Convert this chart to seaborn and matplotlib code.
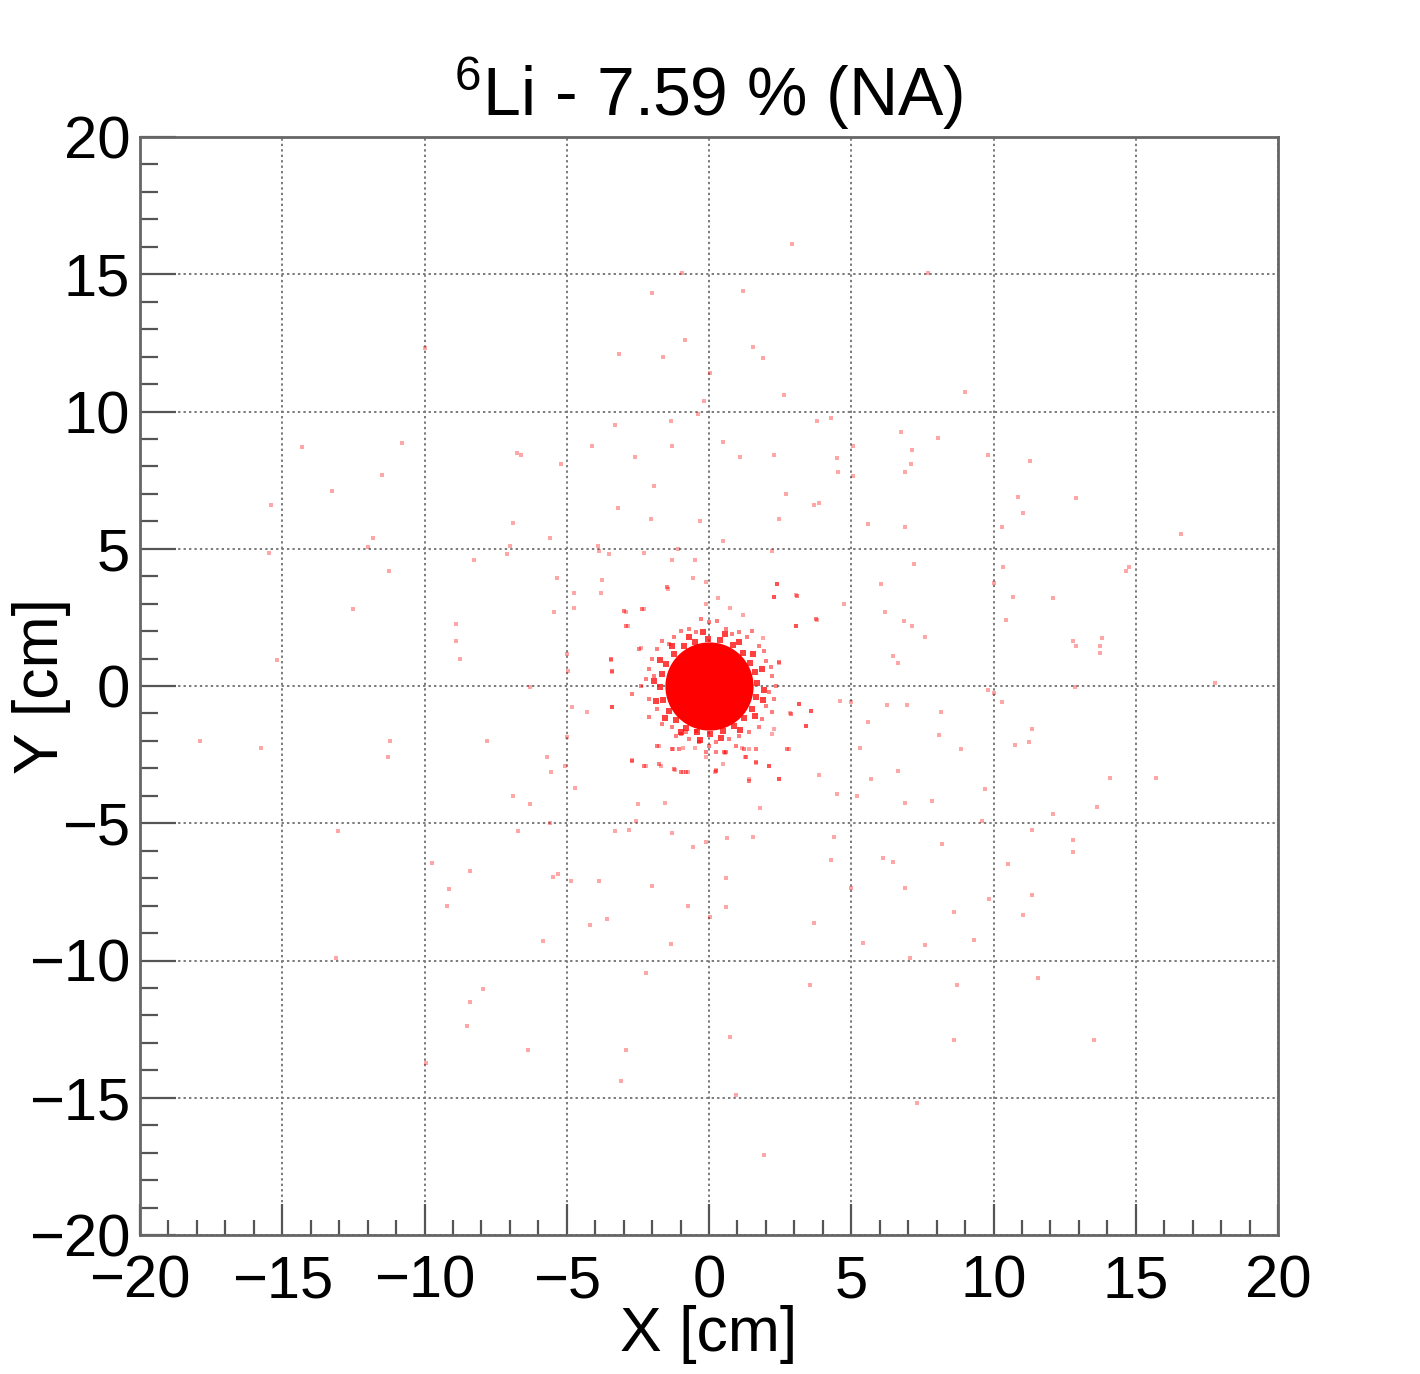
import numpy as np
import pandas as pd
import matplotlib
matplotlib.use("Agg")
import matplotlib.pyplot as plt
from matplotlib.ticker import MultipleLocator
import seaborn as sns

# ---------------- data (cm) ----------------
title = r"$^{6}$Li - 7.59 % (NA)"
x_label = "X [cm]"
y_label = "Y [cm]"
tick_values = [-20, -15, -10, -5, 0, 5, 10, 15, 20]

# centre of the dense beam spot and its saturated radius (cm)
core_x = [0.0]
core_y = [0.0]
core_radius_cm = 1.55

# dense ring just outside the saturated spot
ring_x = [1.70, 1.62, 1.45, 1.20, 0.85, 0.40, -0.05, -0.48, -0.88, -1.22, -1.50, -1.66, -1.72, -1.62,
          -1.42, -1.15, -0.80, -0.42, 0.05, 0.48, 0.88, 1.22, 1.50, 1.66,
          1.95, 1.85, 1.55, 1.05, 0.55, -0.20, -0.72, -1.30, -1.72, -1.95, -1.88, -1.55, -1.00, -0.30,
          0.42, 1.10, 1.62, 1.90]
ring_y = [0.10, 0.50, 0.85, 1.20, 1.50, 1.68, 1.72, 1.62, 1.45, 1.18, 0.80, 0.42, -0.05, -0.50,
          -0.92, -1.25, -1.52, -1.66, -1.74, -1.64, -1.46, -1.18, -0.82, -0.40,
          -0.15, 0.62, 1.15, 1.62, 1.88, 1.95, 1.80, 1.45, 0.95, 0.20, -0.55, -1.15, -1.68, -1.95,
          -1.90, -1.62, -1.10, -0.50]

# fuzzy edge of the beam spot
edge_x = [-0.29, 0.0, 0.29, -0.70, -0.47, -0.99, 0.59, 0.82, 1.05, 1.35, 1.52, -1.23, -1.41, -1.64,
          1.76, 1.93, -1.82, -1.99, 1.99, 2.17, 2.46, -2.11, -1.93, -2.40, -2.23, 2.23, 2.34, 2.11,
          -2.69, -2.11, 2.28, 1.99, 2.23, -1.82, -2.11, -1.64, 1.87, 1.76, -1.29, -0.99, -1.17, 1.41,
          1.05, -0.70, -0.35, 0.0, 0.23, 0.70, -0.12, 0.23, 0.94, -1.29, -1.05, 0.53, 1.23, 1.64,
          -0.47, -0.82, -1.47, -2.99, -2.34, -2.93, -2.46, -3.46, -3.40, -3.40, 3.10, 2.28, 2.40,
          3.05, 3.75, 3.16, 3.57, 3.40, 2.87, 2.75, 1.64, 2.11, 2.46, 1.41, 0.23, -0.82, -0.99,
          -1.23, -1.76, -2.28, -2.69, -1.82, 0.59, 1.29]
edge_y = [2.44, 2.32, 2.38, 2.08, 1.96, 2.02, 2.08, 1.89, 1.96, 1.77, 2.02, 1.77, 1.53, 1.65,
          1.47, 1.29, 1.35, 0.98, 0.92, 0.68, 0.86, 0.62, 0.38, 0.01, 0.26, 0.38, 0.01, -0.23,
          -0.29, -0.47, -0.47, -0.72, -0.96, -0.84, -1.14, -1.38, -1.20, -1.50, -1.50, -1.75, -1.81, -1.69,
          -1.81, -1.93, -2.05, -2.17, -2.05, -1.93, -2.42, -2.42, -2.17, -2.30, -2.30, -2.42, -2.30, -2.30,
          -1.63, -1.69, 3.60, 2.74, 2.80, 2.20, 1.35, 0.98, 0.56, -0.78, 3.29, 3.23, 3.72,
          2.20, 2.44, -0.66, -0.90, -1.45, -1.02, -2.30, -2.78, -2.90, -3.39, -3.45, -3.08, -3.14, -3.14,
          -3.02, -2.84, -2.90, -2.72, -2.17, -2.42, -2.60]

# sparse halo of scattered events
halo_x = [-0.95, -2.0, -0.86, -3.15, -1.6, -10.0, -0.18, -0.4, -3.3, -1.35, -4.1, -1.3, -2.6, -6.75,
          -6.6, -5.2, -14.3, -10.8, -11.5, -13.25, -1.95, -3.2, -2.05, -0.3, -15.4, -6.9, -5.6, -11.8,
          -12.0, -15.45, -7.0, -7.1, -8.25, -11.25, -3.9, -3.85, -3.5, -2.3, -1.3, -0.5, -1.1, -5.35,
          -3.75, -0.55, -0.1, -4.75, -3.8, -1.45, -0.1, -4.75, -5.45, -2.9, -2.3, -12.5, -2.85, -8.9,
          -8.9, -8.75, -5.0, -15.2, -3.45, -3.4, -4.95, -2.4,
          2.9, 7.7, 1.2, 1.55, 1.9, 0.05, 2.65, 9.0, 3.8, 4.3, 0.5, 1.1, 2.3, 4.5, 4.55, 5.05, 5.05,
          6.75, 8.05, 7.15, 9.8, 7.1, 6.9, 11.3, 2.7, 3.7, 3.85, 2.45, 0.5, 5.6, 6.9, 10.85, 12.9,
          11.05, 10.3, 16.6, 2.2, 7.2, 10.35, 14.65, 14.75, 2.4, 0.3, 2.3, 3.05, 6.05, 10.0, 10.7,
          12.1, 4.75, 0.75, 1.2, 6.2, 10.45, 3.05, 3.8, 6.85, 7.15, 7.6, 12.8, 12.9, 13.8, 13.75,
          13.75, 6.45, 6.65, 1.9, 2.45, 17.8,
          -6.3, -17.9, -15.75, -11.2, -11.3, -7.8, -4.8, -4.3, -3.4, -5.0, -5.7, -5.55, -5.05, -4.7,
          -2.7, -2.2, -1.7, -1.2, -0.9, -0.75, -1.75, -1.25, -0.9, -0.5, -0.1, -6.9, -6.3, -2.5,
          -1.55, -2.55, -5.6, -13.05, -6.7, -3.3, -2.8, -1.3, -0.1, -0.55, -9.75, -8.4, -5.3, -5.5,
          -4.85, -3.85, -2.0, -9.15, -9.2, -0.75, -3.6, -4.2, -5.85, -1.35, -13.1, -2.2, -7.95,
          -8.4, -8.5, -6.35, -2.9, -9.95, -3.1,
          12.85, 3.15, 3.6, 2.85, 3.4, 4.6, 5.0, 6.25, 6.95, 8.15, 5.6, 8.1, 2.3, 2.2, 5.3, 8.85,
          9.8, 10.0, 10.3, 11.35, 11.25, 10.75, 2.8, 1.4, 1.15, 0.55, 1.25, 1.65, 2.1, 0.5, 0.25,
          0.2, 1.4, 2.45, 3.85, 6.65, 5.7, 4.5, 5.2, 6.9, 7.85, 9.7, 1.8, 9.6, 12.1, 13.65, 14.1,
          15.7, 0.65, 1.55, 4.4, 4.3, 8.2, 6.1, 6.45, 11.35, 12.8, 12.8, 10.5, 0.6, 5.0, 6.9, 9.85,
          11.35, 0.6, 0.05, 8.6, 11.05, 3.7, 5.4, 7.6, 9.3, 7.05, 3.55, 8.7, 11.55, 0.75, 8.6,
          13.55, 0.95, 7.3, 1.95]
halo_y = [15.05, 14.3, 12.6, 12.1, 12.0, 12.3, 10.4, 9.9, 9.5, 9.65, 8.75, 8.75, 8.35, 8.5,
          8.4, 8.1, 8.7, 8.85, 7.7, 7.1, 7.3, 6.5, 6.1, 6.0, 6.6, 5.95, 5.4, 5.4,
          5.05, 4.85, 5.1, 4.8, 4.6, 4.2, 5.1, 4.9, 4.8, 4.85, 4.6, 4.6, 5.0, 3.95,
          3.85, 3.95, 3.8, 3.4, 3.4, 3.55, 3.0, 2.85, 2.7, 2.7, 2.8, 2.8, 2.2, 2.25,
          1.65, 1.0, 1.15, 0.95, 0.95, 0.5, 0.55, 1.4,
          16.1, 15.05, 14.4, 12.35, 11.95, 11.4, 10.6, 10.7, 9.65, 9.75, 8.9, 8.35, 8.4, 8.3, 7.8, 8.75, 7.65,
          9.25, 9.05, 8.6, 8.4, 8.1, 7.8, 8.2, 7.0, 6.6, 6.65, 6.1, 5.3, 5.9, 5.8, 6.9, 6.85,
          6.3, 5.8, 5.55, 4.9, 4.45, 4.35, 4.2, 4.35, 3.7, 3.2, 3.25, 3.3, 3.7, 3.75, 3.25,
          3.2, 3.0, 2.85, 2.6, 2.7, 2.4, 2.2, 2.4, 2.35, 2.2, 1.8, 1.65, 1.45, 1.75, 1.45,
          1.2, 1.1, 0.85, 1.75, 0.85, 0.1,
          -0.05, -2.0, -2.25, -2.0, -2.6, -2.0, -0.75, -0.95, -0.75, -1.85, -2.6, -3.15, -2.9, -3.7,
          -2.7, -2.9, -2.9, -3.05, -3.15, -3.15, -2.2, -2.3, -2.25, -2.25, -2.6, -4.0, -4.3, -4.3,
          -4.25, -4.9, -5.0, -5.3, -5.3, -5.3, -5.25, -5.35, -5.7, -5.85, -6.45, -6.75, -6.85, -6.95,
          -7.1, -7.1, -7.3, -7.4, -8.0, -8.0, -8.5, -8.7, -9.3, -9.4, -9.9, -10.45, -11.05,
          -11.5, -12.4, -13.25, -13.25, -13.75, -14.4,
          -0.05, -0.65, -0.9, -1.0, -1.45, -0.55, -0.6, -0.7, -0.7, -0.95, -1.3, -1.8, -1.55, -1.75, -2.25, -2.3,
          -0.15, -0.25, -0.6, -1.55, -2.05, -2.15, -2.3, -2.3, -2.25, -2.45, -2.6, -2.8, -2.9, -2.85, -3.05,
          -3.15, -3.4, -3.4, -3.25, -3.1, -3.4, -3.95, -4.0, -4.25, -4.2, -3.75, -4.45, -4.9, -4.65, -4.4, -3.35,
          -3.35, -5.55, -5.5, -5.5, -6.35, -5.75, -6.25, -6.4, -5.25, -5.6, -6.05, -6.5, -7.0, -7.35, -7.35, -7.75,
          -7.6, -8.05, -8.4, -8.25, -8.35, -8.65, -9.35, -9.45, -9.25, -9.9, -10.9, -10.9, -10.65, -12.8, -12.9,
          -12.9, -14.9, -15.2, -17.1]

core = pd.DataFrame({"x": core_x, "y": core_y})
ring = pd.DataFrame({"x": ring_x, "y": ring_y})
edge = pd.DataFrame({"x": edge_x, "y": edge_y})
halo = pd.DataFrame({"x": halo_x, "y": halo_y})

# ---------------- style ----------------
sns.set_theme(style="white")
plt.rcParams["font.family"] = ["Liberation Sans", "DejaVu Sans"]
plt.rcParams["mathtext.fontset"] = "custom"
plt.rcParams["mathtext.rm"] = "Liberation Sans"
plt.rcParams["mathtext.it"] = "Liberation Sans"
plt.rcParams["text.color"] = "black"
plt.rcParams["axes.labelcolor"] = "black"
plt.rcParams["xtick.labelcolor"] = "black"
plt.rcParams["ytick.labelcolor"] = "black"

DPI = 100
fig = plt.figure(figsize=(14.20, 13.74), dpi=DPI)
ax = fig.add_axes([140 / 1420, 1 - 1235 / 1374, (1278 - 140) / 1420, (1235 - 137) / 1374])
ax.set_xlim(-20, 20)
ax.set_ylim(-20, 20)

# diameter of the saturated core in points (computed through the data transform)
p0 = ax.transData.transform((0, 0))
p1 = ax.transData.transform((core_radius_cm, 0))
diam_pt = 2 * (p1[0] - p0[0]) * 72 / DPI

sns.scatterplot(data=halo, x="x", y="y", ax=ax, marker="s", s=6, color="#ff0000",
                alpha=0.35, linewidth=0, legend=False, zorder=3)
sns.scatterplot(data=edge, x="x", y="y", ax=ax, marker="s", s=7, color="#ff0000",
                alpha=0.5, linewidth=0, legend=False, zorder=3)
sns.scatterplot(data=ring, x="x", y="y", ax=ax, marker="s", s=16, color="#ff0000",
                alpha=0.75, linewidth=0, legend=False, zorder=3)
sns.scatterplot(data=core, x="x", y="y", ax=ax, marker="o", s=diam_pt ** 2, color="#ff0000",
                linewidth=0, legend=False, zorder=4)

# ---------------- axes ----------------
ax.set_xticks(tick_values)
ax.set_yticks(tick_values)
ax.xaxis.set_minor_locator(MultipleLocator(1))
ax.yaxis.set_minor_locator(MultipleLocator(1))
ax.grid(True, which="major", color="#7a7a7a", linestyle=(0, (1.2, 1.6)), linewidth=1.4, zorder=1)
ax.set_axisbelow(True)

for s in ax.spines.values():
    s.set_color("#666666")
    s.set_linewidth(2.0)
    s.set_visible(True)

ax.tick_params(axis="x", which="major", direction="in", length=22, width=1.6, color="#555555",
               labelsize=43, pad=14, top=False, bottom=True)
ax.tick_params(axis="x", which="minor", direction="in", length=11, width=1.6, color="#555555",
               top=False, bottom=True)
ax.tick_params(axis="y", which="major", direction="in", length=26, width=1.6, color="#555555",
               labelsize=43, pad=7, left=True, right=False)
ax.tick_params(axis="y", which="minor", direction="in", length=13, width=1.6, color="#555555",
               left=True, right=False)

ax.set_xlabel(x_label, fontsize=45)
ax.set_ylabel(y_label, fontsize=45)
ax.xaxis.set_label_coords(0.5, -0.064)
ax.yaxis.set_label_coords(-0.061, 0.5)
ax.set_title(title, fontsize=49, pad=15)

fig.savefig("out.png", dpi=DPI)
